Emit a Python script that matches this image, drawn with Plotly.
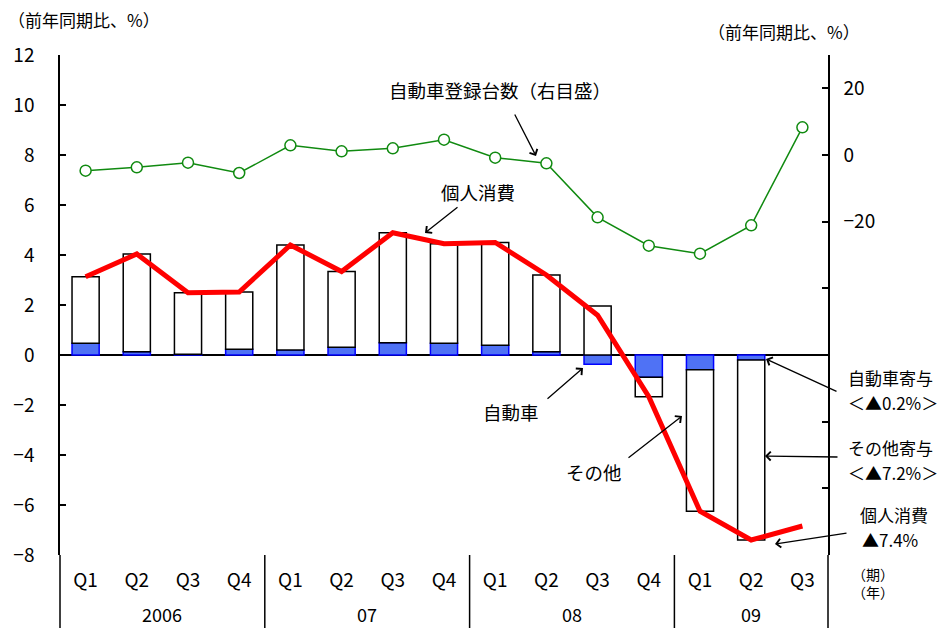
import plotly.graph_objects as go

# ---------------- data ----------------
quarters = ["Q1", "Q2", "Q3", "Q4", "Q1", "Q2", "Q3", "Q4",
            "Q1", "Q2", "Q3", "Q4", "Q1", "Q2", "Q3"]
years = ["2006", "07", "08", "09"]
year_len = [4, 4, 4, 3]

auto_contrib = [0.47, 0.13, 0.03, 0.23, 0.20, 0.31, 0.49, 0.47,
                0.39, 0.13, -0.37, -0.89, -0.59, -0.20, None]
other_contrib = [2.66, 3.91, 2.46, 2.29, 4.20, 3.03, 4.40, 3.98,
                 4.11, 3.07, 1.96, -0.78, -5.66, -7.20, None]
consumption = [3.13, 4.04, 2.49, 2.52, 4.40, 3.34, 4.89, 4.45,
               4.50, 3.20, 1.59, -1.67, -6.25, -7.40, -6.84]
registrations = [-4.7, -3.7, -2.3, -5.4, 2.9, 1.1, 2.0, 4.6,
                 -0.8, -2.5, -18.7, -27.2, -29.6, -21.1, 8.3]

left_ticks = [-8, -6, -4, -2, 0, 2, 4, 6, 8, 10, 12]
right_ticks = [-120, -100, -80, -60, -40, -20, 0, 20]
right_labels = ["", "", "", "", "", "−20", "0", "20"]

# ---------------- layout helpers ----------------
W, H = 950, 628
L, R, T, B = 60, 828, 55, 555
n = len(quarters)
xs = list(range(n))

JP = "Noto Sans CJK JP"
NUM = "Liberation Sans Narrow, Noto Sans CJK JP"


def px2x(px):
    return (px - L) / (R - L) * n - 0.5


def py2y(py):
    return 12 - (py - T) / (B - T) * 20


def pxp(px):
    return (px - L) / (R - L)


def pyp(py):
    return (B - py) / (B - T)


fig = go.Figure()

fig.add_trace(go.Bar(
    x=xs, y=auto_contrib, name="自動車",
    marker=dict(color="#4f72f5", line=dict(color="#0000ff", width=1.5)),
    width=0.53, yaxis="y",
))
fig.add_trace(go.Bar(
    x=xs, y=other_contrib, name="その他",
    marker=dict(color="white", line=dict(color="black", width=1.5)),
    width=0.53, yaxis="y",
))
fig.add_trace(go.Scatter(
    x=xs, y=consumption, mode="lines", name="個人消費",
    line=dict(color="#ff0000", width=5), yaxis="y",
))
fig.add_trace(go.Scatter(
    x=xs, y=registrations, mode="lines+markers", name="自動車登録台数",
    line=dict(color="#108a10", width=1.5),
    marker=dict(symbol="circle", size=11, color="white",
                line=dict(color="#108a10", width=1.5)),
    yaxis="y2",
))

shapes = []
# axis extensions down through the category area
for xp in [0, 1]:
    shapes.append(dict(type="line", xref="paper", yref="paper",
                       x0=xp, x1=xp, y0=0, y1=pyp(H),
                       line=dict(color="black", width=1.5)))
# year dividers
pos = 0
for k in year_len[:-1]:
    pos += k
    shapes.append(dict(type="line", xref="x", yref="paper",
                       x0=pos - 0.5, x1=pos - 0.5, y0=0, y1=pyp(H),
                       line=dict(color="black", width=1.5)))

annotations = []
# year labels
pos = 0
for yr, k in zip(years, year_len):
    annotations.append(dict(x=pos + (k - 1) / 2, xref="x", y=pyp(614), yref="paper",
                            text=yr, showarrow=False, yanchor="middle",
                            font=dict(family=NUM, size=18, color="black")))
    pos += k


def text(px, py, s, size=18, anchor="center"):
    annotations.append(dict(x=pxp(px), y=pyp(py), xref="paper", yref="paper",
                            text=s, showarrow=False, xanchor=anchor, yanchor="middle",
                            align="left", font=dict(family=JP, size=size, color="black")))


def arrow(tx, ty, hx, hy):
    annotations.append(dict(x=px2x(hx), y=py2y(hy), xref="x", yref="y",
                            ax=px2x(tx), ay=py2y(ty), axref="x", ayref="y",
                            text="", showarrow=True, arrowhead=4, arrowsize=1.3,
                            arrowwidth=1.3, arrowcolor="black"))


text(84, 20, "（前年同期比、%）", 17)
text(784, 32, "（前年同期比、%）", 17)
text(500, 90, "自動車登録台数（右目盛）", 18.5)
arrow(514, 113, 536, 156)
text(478, 192, "個人消費", 18.5)
arrow(459, 206, 425, 233)
text(511, 412, "自動車", 18.5)
arrow(546, 400, 583, 368)
text(594, 472, "その他", 18.5)
arrow(627, 459, 682, 416)
text(846, 377, "自動車寄与", 17, anchor="left")
text(846, 402, "＜▲0.2%＞", 17, anchor="left")
arrow(838, 392, 766, 359)
text(846, 447, "その他寄与", 17, anchor="left")
text(846, 472, "＜▲7.2%＞", 17, anchor="left")
arrow(839, 457, 765, 456)
text(858, 514, "個人消費", 17, anchor="left")
text(860, 539, "▲7.4%", 17, anchor="left")
arrow(848, 533, 775, 544)
text(850, 583, "（期）<br>（年）", 14, anchor="left")

fig.update_layout(
    width=W, height=H,
    margin=dict(l=L, r=W - R, t=T, b=H - B, pad=0),
    paper_bgcolor="white", plot_bgcolor="white",
    barmode="relative", showlegend=False,
    shapes=shapes, annotations=annotations,
    xaxis=dict(range=[-0.5, n - 0.5], tickmode="array", tickvals=xs, ticktext=quarters,
               showgrid=False, zeroline=False, showline=False, ticks="",
               tickfont=dict(family=NUM, size=19, color="black"), ticklabelstandoff=12),
    yaxis=dict(range=[-8, 12], tickvals=left_ticks, showgrid=False,
               zeroline=True, zerolinecolor="black", zerolinewidth=1.5,
               showline=True, linecolor="black", linewidth=1.5,
               ticks="inside", ticklen=6, tickcolor="black", tickwidth=1.5,
               tickfont=dict(family=NUM, size=19, color="black"), ticklabelstandoff=20),
    yaxis2=dict(range=[-120, 30], overlaying="y", side="right",
                tickvals=right_ticks, ticktext=right_labels, showgrid=False,
                zeroline=False, showline=True, linecolor="black", linewidth=1.5,
                ticks="inside", ticklen=6, tickcolor="black", tickwidth=1.5,
                tickfont=dict(family=NUM, size=19, color="black"), ticklabelstandoff=10),
)

fig.write_html("out.html", config={"displayModeBar": False},
               post_script="document.body.style.margin='0';")
